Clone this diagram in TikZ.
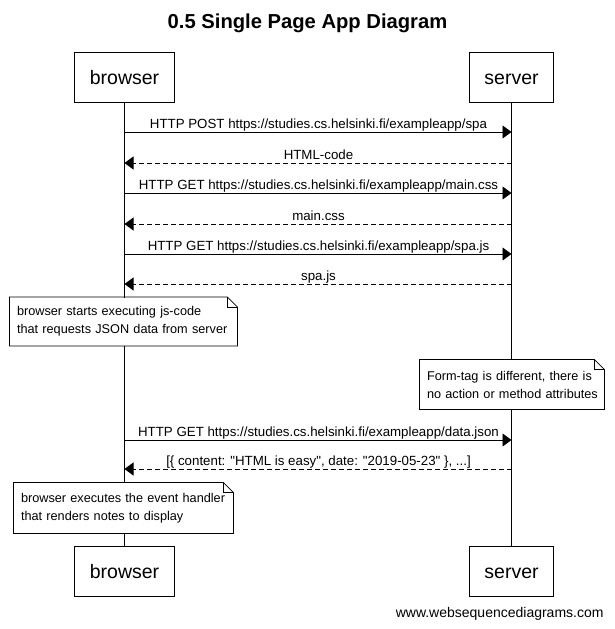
\documentclass[tikz,border=0pt]{standalone}
\usepackage{fontspec}
\setmainfont{Liberation Sans}[Ligatures=TeXOff]
\usetikzlibrary{arrows.meta}
\begin{document}
\begin{tikzpicture}[x=1pt,y=-1pt,line width=0.9pt,
  actor/.style={draw,fill=white,minimum height=50pt,inner xsep=15pt,inner ysep=0pt,text height=14pt,text depth=0pt,font=\fontsize{19.5}{22}\selectfont},
  msglabel/.style={anchor=base,inner sep=0pt,font=\fontsize{13.3}{15}\selectfont},
  sync/.style={-{Triangle[length=9pt,width=13pt]}},
  reply/.style={-{Triangle[length=9pt,width=13pt]},dash pattern=on 5pt off 3pt},
  notebox/.style={fill=white,draw=none,inner xsep=7pt,inner ysep=0pt,align=left,font=\fontsize{12.7}{18}\selectfont},
  noteline/.style={line width=0.8pt},
  lifeline/.style={line width=0.9pt}]
\useasboundingbox (0,0) rectangle (614,629);
\node[anchor=base,inner sep=0pt,font=\bfseries\fontsize{20.2}{24}\selectfont] (title) at (307.5,28) {0.5 Single Page App Diagram};

\node[actor] (bT) at (124.5,77.5) {browser};
\node[actor] (sT) at (511.5,77.5) {server};
\node[actor] (bB) at (124.5,571) {browser};
\node[actor] (sB) at (511.5,571) {server};

\draw[lifeline] (bT.south) -- (bB.north);
\draw[lifeline] (sT.south) -- (sB.north);

% message endpoints
\foreach \n/\y in {1/132,2/163,3/193,4/224,5/254,6/284,7/440,8/469}{
  \coordinate (b\n) at (124.5,\y);
  \coordinate (s\n) at (511.5,\y);
}

\draw[sync] (b1) -- (s1);
\node[msglabel] (l1) at (318.5,128) {HTTP POST https://studies.cs.helsinki.fi/exampleapp/spa};
\draw[reply] (s2) -- (b2);
\node[msglabel] (l2) at (318.5,159) {HTML-code};
\draw[sync] (b3) -- (s3);
\node[msglabel] (l3) at (318.5,189) {HTTP GET https://studies.cs.helsinki.fi/exampleapp/main.css};
\draw[reply] (s4) -- (b4);
\node[msglabel] (l4) at (318.5,220) {main.css};
\draw[sync] (b5) -- (s5);
\node[msglabel] (l5) at (318.5,250) {HTTP GET https://studies.cs.helsinki.fi/exampleapp/spa.js};
\draw[reply] (s6) -- (b6);
\node[msglabel] (l6) at (318.5,280) {spa.js};
\draw[sync] (b7) -- (s7);
\node[msglabel] (l7) at (318.5,436) {HTTP GET https://studies.cs.helsinki.fi/exampleapp/data.json};
\draw[reply] (s8) -- (b8);
\node[msglabel] (l8) at (318.5,465) {[\{ content: "HTML is easy", date: "2019-05-23" \}, ...]};

% notes
\node[notebox,minimum width=227pt,minimum height=48pt,text width=213pt] (n1) at (123.5,321.5)
  {\mbox{browser starts executing js-code}\\\mbox{that requests JSON data from server}};
\node[notebox,minimum width=184pt,minimum height=49pt,text width=170pt] (n2) at (512,384.5)
  {\mbox{Form-tag is different, there is}\\\mbox{no action or method attributes}};
\node[notebox,minimum width=219pt,minimum height=50pt,text width=205pt] (n3) at (123.5,508)
  {\mbox{browser executes the event handler}\\\mbox{that renders notes to display}};
\foreach \m in {n1,n2,n3}{
  \draw[noteline] (\m.north west) -- ([xshift=-10pt]\m.north east) -- ([yshift=-10pt]\m.north east)
     -- (\m.south east) -- (\m.south west) -- cycle;
  \draw[noteline] ([xshift=-10pt]\m.north east) -- ([xshift=-10pt,yshift=-10pt]\m.north east) -- ([yshift=-10pt]\m.north east);
}

\node[anchor=base east,inner sep=0pt,font=\fontsize{14}{16}\selectfont] (wm) at (604,617) {www.websequencediagrams.com};
\end{tikzpicture}
\end{document}
